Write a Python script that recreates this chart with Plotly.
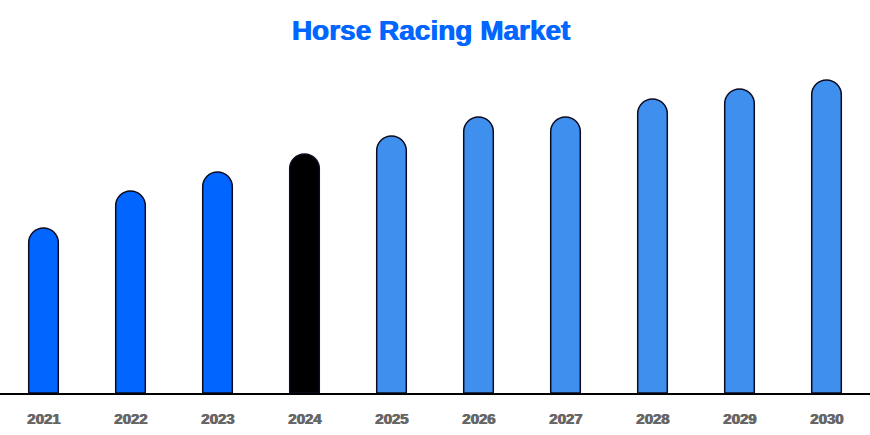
import plotly.graph_objects as go

# Horse Racing Market - yearly values (arbitrary units)
years = ['2021', '2022', '2023', '2024', '2025', '2026', '2027', '2028', '2029', '2030']
market_size = [16.5, 20.2, 22.1, 23.9, 25.7, 27.6, 27.6, 29.4, 30.4, 31.3]

# history in strong blue, base year in black, forecast in lighter blue
bar_colors = ['#0066FF'] * 3 + ['#000000'] + ['#3F8FEE'] * 6

fig = go.Figure(go.Bar(
    x=years,
    y=market_size,
    width=0.34,
    marker=dict(color=bar_colors, line=dict(color='#0b0b22', width=1.5)),
    hoverinfo='x+y',
))

fig.update_layout(
    title=dict(text='<b>Horse Racing Market</b>', x=0.495, xanchor='center', y=0.93, yanchor='middle',
               font=dict(family='Liberation Sans, Arial', size=28, color='#0066FF',
                         shadow='1px 0px 0px #0066FF')),
    width=870, height=435,
    margin=dict(l=0, r=0, t=43, b=42),
    plot_bgcolor='white', paper_bgcolor='white',
    barcornerradius='50%',
    showlegend=False,
)
fig.update_xaxes(showline=True, linecolor='black', linewidth=2, showgrid=False,
                 ticklabelstandoff=11,
                 tickfont=dict(family='Liberation Sans, Arial', size=15, color='#666666', weight='bold',
                               shadow='1px 0px 0px #666666'))
fig.update_yaxes(visible=False, range=[0, 35])

# page has a default 8px body margin; drop it so the figure fills the window
fig.write_html("out.html", config={'displayModeBar': False},
               post_script="document.body.style.margin='0';")
